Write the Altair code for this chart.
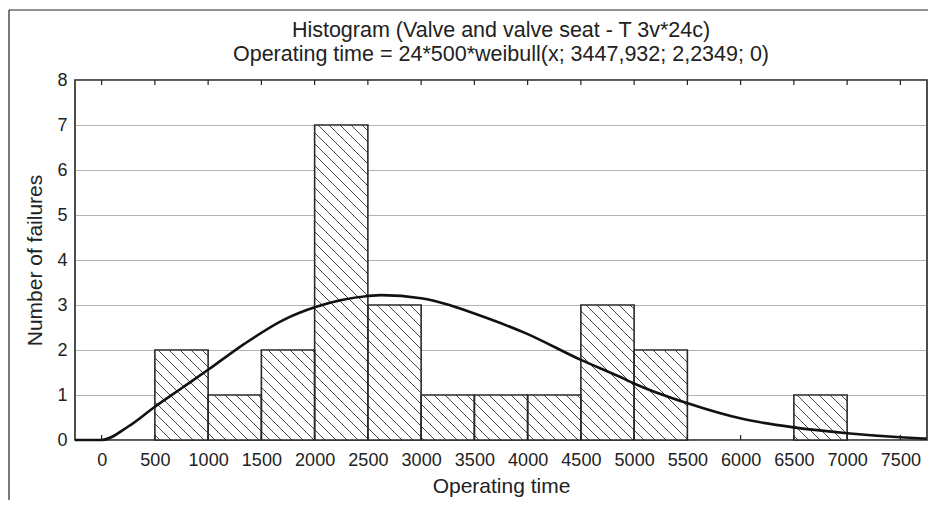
import altair as alt
import pandas as pd
import numpy as np

# ---- data ----
bin_start = [500, 1000, 1500, 2000, 2500, 3000, 3500, 4000, 4500, 5000, 6500]
bin_end = [1000, 1500, 2000, 2500, 3000, 3500, 4000, 4500, 5000, 5500, 7000]
failures = [2, 1, 2, 7, 3, 1, 1, 1, 3, 2, 1]

curve_x = [-250, 0, 250, 500, 750, 1000, 1330, 1700, 2015, 2500, 2625, 3000, 3265, 3500,
           3985, 4500, 4860, 5015, 5510, 6015, 6500, 7000, 7500, 7745]
curve_y = [0, 0, 0.3, 0.74, 1.15, 1.56, 2.12, 2.66, 2.96, 3.2, 3.22, 3.15, 3.0, 2.81,
           2.37, 1.78, 1.41, 1.24, 0.81, 0.47, 0.28, 0.15, 0.06, 0.03]

x_ticks = [0, 500, 1000, 1500, 2000, 2500, 3000, 3500, 4000, 4500, 5000, 5500, 6000, 6500, 7000, 7500]
y_ticks = [0, 1, 2, 3, 4, 5, 6, 7, 8]

title_lines = ["Histogram (Valve and valve seat - T 3v*24c)",
               "Operating time = 24*500*weibull(x; 3447,932; 2,2349; 0)"]

# ---- layout ----
W, H = 852, 360
XMIN, XMAX = -250, 7750
YMIN, YMAX = 0, 8
FONT = "Liberation Sans"
INK = "#222222"

bars = pd.DataFrame({"start": bin_start, "end": bin_end, "n": failures})
curve = pd.DataFrame({"x": curve_x, "y": curve_y})
ticks = pd.DataFrame({"t": x_ticks})

# hatch segments ("\" direction) derived from the bar rectangles and the pixel scales
sx = W / (XMAX - XMIN)
sy = H / (YMAX - YMIN)
spacing = 11.0
segs = []
for s, e, n in zip(bin_start, bin_end, failures):
    u0, u1 = (s - XMIN) * sx, (e - XMIN) * sx
    vt, vb = (YMAX - n) * sy, H
    k0 = int(np.floor((vt - u1) / spacing))
    k1 = int(np.ceil((vb - u0) / spacing))
    for k in range(k0, k1 + 1):
        c = k * spacing
        ua = max(u0, vt - c)
        ub = min(u1, vb - c)
        if ub - ua > 0.5:
            segs.append({
                "x": ua / sx + XMIN, "y": YMAX - (ua + c) / sy,
                "x2": ub / sx + XMIN, "y2": YMAX - (ub + c) / sy,
            })
hatch = pd.DataFrame(segs)

xscale = alt.Scale(domain=[XMIN, XMAX], nice=False, zero=False)
yscale = alt.Scale(domain=[YMIN, YMAX], nice=False)

xaxis = alt.Axis(values=x_ticks, format="d", tickSize=0, domain=False, grid=False,
                 labelFontSize=18, labelFont=FONT, labelColor=INK, labelPadding=11,
                 title="Operating time", titleFontSize=21, titleFont=FONT,
                 titleFontWeight="normal", titleColor=INK, titlePadding=6,
                 labelFlush=False)
yaxis = alt.Axis(values=y_ticks, format="d", tickSize=0, domain=False, grid=True,
                 gridColor="#666666", gridDash=[1, 1], gridWidth=1,
                 labelFontSize=18, labelFont=FONT, labelColor=INK, labelPadding=8,
                 title="Number of failures", titleFontSize=21, titleFont=FONT,
                 titleFontWeight="normal", titleColor=INK, titlePadding=11)

base_bars = alt.Chart(bars)

bar_fill = base_bars.mark_rect(fill="white", stroke=None).encode(
    x=alt.X("start:Q", scale=xscale, axis=xaxis),
    x2="end:Q",
    y=alt.Y("n:Q", scale=yscale, axis=yaxis),
    y2=alt.datum(0),
)

hatch_layer = alt.Chart(hatch).mark_rule(color="#333333", strokeWidth=0.9).encode(
    x=alt.X("x:Q", scale=xscale), x2="x2:Q",
    y=alt.Y("y:Q", scale=yscale), y2="y2:Q",
)

bar_outline = base_bars.mark_rect(fill=None, stroke="#2a2a2a", strokeWidth=1.6).encode(
    x=alt.X("start:Q", scale=xscale), x2="end:Q",
    y=alt.Y("n:Q", scale=yscale), y2=alt.datum(0),
)

line = alt.Chart(curve).mark_line(color="#111111", strokeWidth=2.6,
                                  interpolate="monotone").encode(
    x=alt.X("x:Q", scale=xscale),
    y=alt.Y("y:Q", scale=yscale),
)

top_ticks = alt.Chart(ticks).mark_rule(color=INK, strokeWidth=1.2).encode(
    x=alt.X("t:Q", scale=xscale), y=alt.value(0), y2=alt.value(5),
)
bot_ticks = alt.Chart(ticks).mark_rule(color=INK, strokeWidth=1.2).encode(
    x=alt.X("t:Q", scale=xscale), y=alt.value(H), y2=alt.value(H - 5),
)

# outer figure frame (top and left edges visible in the reference)
frame_top = alt.Chart(ticks.head(1)).mark_rule(color=INK, strokeWidth=1.2).encode(
    x=alt.value(-66), x2=alt.value(W + 1), y=alt.value(-70),
)
frame_left = alt.Chart(ticks.head(1)).mark_rule(color=INK, strokeWidth=1.2).encode(
    x=alt.value(-66), y=alt.value(-70), y2=alt.value(H + 64),
)

chart = alt.layer(
    bar_fill, hatch_layer, bar_outline, line, top_ticks, bot_ticks, frame_top, frame_left
).properties(
    width=W, height=H,
    title=alt.TitleParams(text=title_lines, fontSize=21.5, font=FONT, fontWeight="normal",
                          color=INK, anchor="middle", offset=-56, lineHeight=24),
    autosize=alt.AutoSizeParams(type="none"),
    padding={"left": 67, "top": 72, "right": 1, "bottom": 60},
).configure_view(
    stroke="#222222", strokeWidth=1.6
)

chart.save("out.html", embed_options={"renderer": "svg", "actions": False})
